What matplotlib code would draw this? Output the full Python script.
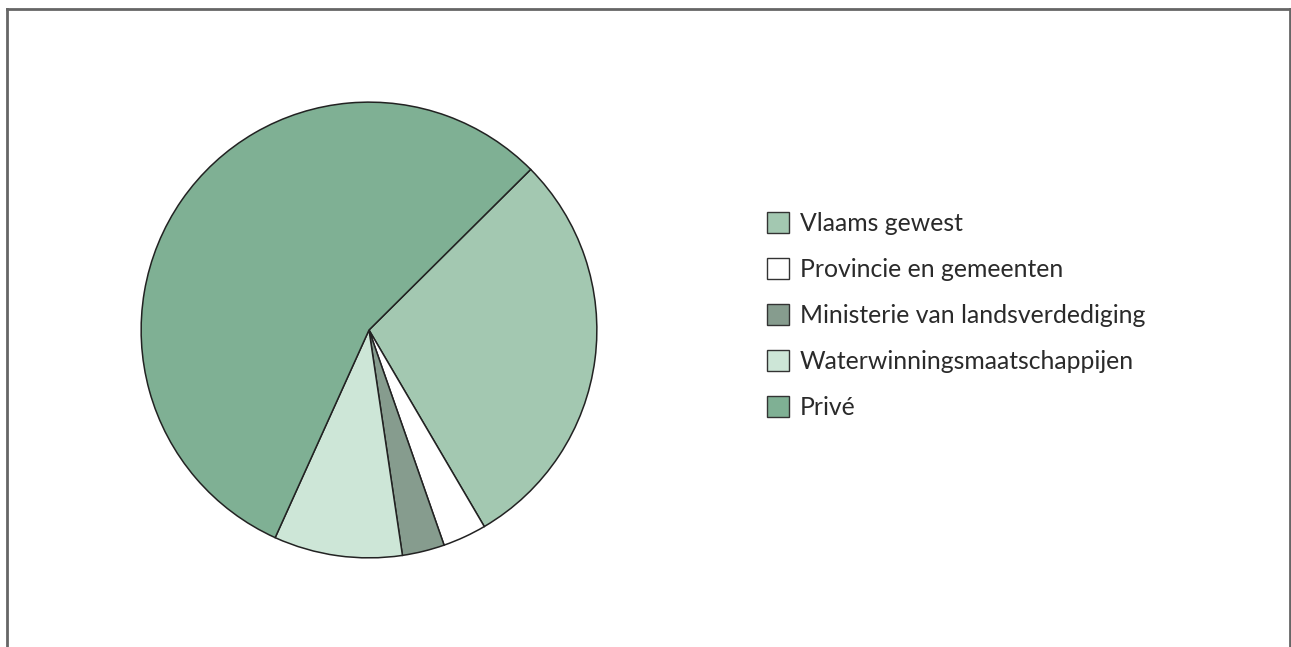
import matplotlib
matplotlib.use("Agg")
import matplotlib.pyplot as plt
from matplotlib.patches import Patch
from matplotlib.lines import Line2D

# ── Data ─────────────────────────────────────────────────────────────────────
labels = [
    "Vlaams gewest",
    "Provincie en gemeenten",
    "Ministerie van landsverdediging",
    "Waterwinningsmaatschappijen",
    "Privé",
]
shares = [29.0, 3.1, 3.0, 9.1, 55.8]
colors = ["#A3C8B1", "#FFFFFF", "#869C8E", "#CDE6D7", "#7FB094"]

W, H = 1291, 647
fig = plt.figure(figsize=(W / 100, H / 100), dpi=100)

# pie axes (centre ~ (369, 330), radius ~ 229 px)
cx, cy, r = 369, 330, 229
ax = fig.add_axes([(cx - r) / W, (H - cy - r) / H, 2 * r / W, 2 * r / H])
ax.pie(
    shares, colors=colors, startangle=44.8, counterclock=False, radius=1,
    wedgeprops={"edgecolor": "#222222", "linewidth": 1.1},
)
ax.set_xlim(-1.005, 1.005)
ax.set_ylim(-1.005, 1.005)
ax.set_aspect("equal")
ax.axis("off")

# legend
fs = 17.8
handles = [Patch(facecolor=c, edgecolor="#333333", linewidth=1.0) for c in colors]
leg = fig.legend(
    handles, labels, loc="upper left", bbox_to_anchor=(767 / W, 1 - 212 / H),
    frameon=False, prop={"family": "Lato", "weight": "normal", "size": fs},
    handlelength=0.89, handleheight=0.89, handletextpad=0.44,
    labelspacing=0.93, borderpad=0, borderaxespad=0,
)
for t in leg.get_texts():
    t.set_color("#2a2a2a")

# open frame (left, top, right)
frame_kw = dict(color="#666666", linewidth=2.0, transform=fig.transFigure)
fig.add_artist(Line2D([6.5 / W, 6.5 / W], [0, 1 - 8.5 / H], **frame_kw))
fig.add_artist(Line2D([6.5 / W, 1289.5 / W], [1 - 8.5 / H, 1 - 8.5 / H], **frame_kw))
fig.add_artist(Line2D([1289.5 / W, 1289.5 / W], [0, 1 - 8.5 / H], **frame_kw))

fig.savefig("out.png", dpi=100)
